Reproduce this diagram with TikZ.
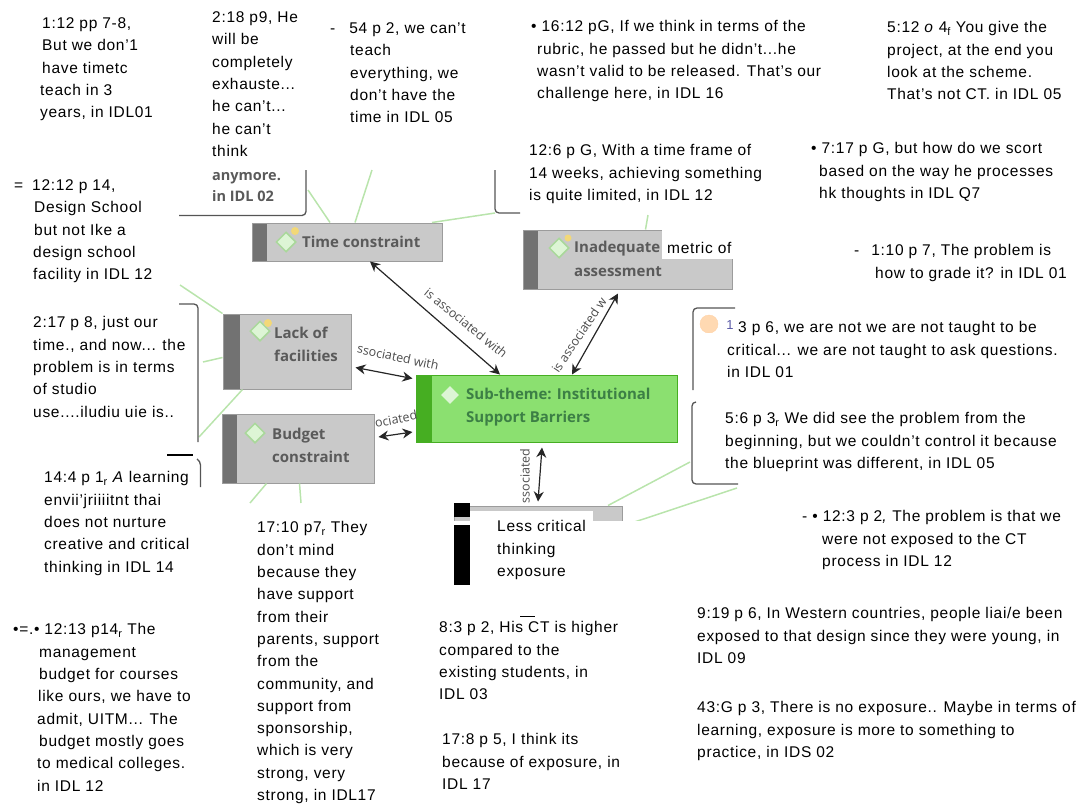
\documentclass[tikz,border=0pt]{standalone}
\usepackage{fontspec}
\usepackage{xcolor}
\setmainfont[LetterSpace=4.5]{Liberation Sans}
\newfontfamily\themefont{Open Sans}
\usetikzlibrary{shapes.geometric,arrows.meta}
\definecolor{themegrey}{HTML}{C9C9C9}
\definecolor{themeedge}{HTML}{9C9C9C}
\definecolor{themestrip}{HTML}{727272}
\definecolor{themetext}{HTML}{5A5A5A}
\definecolor{subgreen}{HTML}{8BE070}
\definecolor{substrip}{HTML}{46AE22}
\definecolor{subtext}{HTML}{3C7F45}
\definecolor{linkgreen}{HTML}{B9E4AC}
\definecolor{iconedge}{HTML}{A9D89A}
\definecolor{iconfill}{HTML}{DDF5D5}
\definecolor{iconsun}{HTML}{F2D878}
\definecolor{frameline}{HTML}{555555}
\tikzset{
  quote/.style={anchor=north west,align=left,inner sep=0pt,yshift=-1.5pt,font=\fontsize{15.5}{22.3}\selectfont},
  greybox/.style={draw=themeedge,fill=themegrey,line width=1pt,inner sep=0pt},
  themelabel/.style={anchor=west,align=left,inner sep=0pt,text=themetext,font=\themefont\bfseries\fontsize{15}{23}\selectfont},
  edgelabel/.style={inner sep=0pt,text=black!70,font=\themefont\fontsize{12.5}{13}\selectfont},
  assoc/.style={{Stealth[length=10pt,width=10pt]}-{Stealth[length=10pt,width=10pt]},line width=1.2pt,black!85},
  quotelink/.style={linkgreen,line width=1.5pt},
  framepath/.style={frameline,line width=1.3pt,rounded corners=4pt},
  diamondicon/.style={diamond,draw=iconedge,fill=iconfill,line width=1.5pt,minimum size=20pt,inner sep=0pt}
}
\begin{document}
\begin{tikzpicture}[x=1pt,y=-1pt]
\useasboundingbox (0,0) rectangle (1083,803);
\coordinate (linka) at (308,190);
\coordinate (linkb) at (372,170);
\coordinate (linkc) at (495,213);
\coordinate (linkd) at (180,285);
\coordinate (linke) at (203,362);
\coordinate (linkf) at (199,437);
\coordinate (linkg) at (250,503);
\coordinate (linkh) at (301,503);
\coordinate (linki) at (648,215);
\coordinate (linkj) at (690,462);
\coordinate (linkk) at (737,488);
\node[greybox,minimum width=190pt,minimum height=38pt] (timeconstraint) at (347,242) {};
\node[greybox,minimum width=128pt,minimum height=75pt] (lackfacilities) at (287,351.5) {};
\node[greybox,minimum width=152pt,minimum height=69pt] (budgetconstraint) at (298,448.5) {};
\node[greybox,minimum width=209pt,minimum height=59pt] (inadequatemetric) at (627.5,259.5) {};
\node[draw=substrip,fill=subgreen,line width=1pt,inner sep=0pt,minimum width=261pt,minimum height=67pt] (subtheme) at (546.5,408.5) {};
\node[greybox,minimum width=168pt,minimum height=40pt] (lesscritical) at (538,526) {};
\draw[quotelink] ([xshift=-17pt]timeconstraint.north) -- (linka);
\draw[quotelink] ([xshift=8pt]timeconstraint.north) -- (linkb);
\draw[quotelink] ([xshift=85pt]timeconstraint.north) -- (linkc);
\draw[quotelink] (lackfacilities.north west) -- (linkd);
\draw[quotelink] ([yshift=-6pt]lackfacilities.west) -- (linke);
\draw[quotelink] ([xshift=20pt]lackfacilities.south west) -- (linkf);
\draw[quotelink] ([xshift=45pt]budgetconstraint.south west) -- (linkg);
\draw[quotelink] ([xshift=78pt]budgetconstraint.south west) -- (linkh);
\draw[quotelink] ([xshift=18pt]inadequatemetric.north) -- (linki);
\draw[quotelink] ([xshift=70pt]lesscritical.north) -- (linkj);
\draw[quotelink] (lesscritical.east) -- (linkk);
\fill[themestrip] (252.5,223.5) rectangle (267,260.5);
\fill[themestrip] (223.5,314.5) rectangle (240,388.5);
\fill[themestrip] (222.5,414.5) rectangle (237,482.5);
\fill[themestrip] (523.5,230.5) rectangle (538,288.5);
\fill[substrip] (416.5,375.5) rectangle (432,441.5);
\node[diamondicon] (timeicon) at (286,242) {};
\fill[iconsun] (295,231) circle (4pt);
\node[diamondicon] (lackicon) at (260,331) {};
\fill[iconsun] (268,323) circle (4pt);
\node[diamondicon] (budgeticon) at (255,433) {};
\node[diamondicon] (inadequateicon) at (559,248) {};
\fill[iconsun] (568,238) circle (3.5pt);
\node[diamond,fill=iconfill,minimum size=18pt,inner sep=0pt] (subicon) at (450,395) {};
\node[themelabel] (timelabel) at (302,242) {Time constraint};
\node[themelabel] (lacklabel) at (274,344) {Lack of\\facilities};
\node[themelabel] (budgetlabel) at (272,445) {Budget\\constraint};
\node[themelabel] (inadequatelabel) at (574,249) {Inadequate};
\node[themelabel] (assessmentlabel) at (574,272) {assessment};
\node[themelabel,text=subtext] (sublabel) at (466,407) {Sub-theme: Institutional\\Support Barriers};
\fill[white] (662,229) rectangle (734,258.5);
\fill[white] (470,511) rectangle (593,590);
\fill[white] (454,521) rectangle (640,590);
\fill[black] (454,503) rectangle (470,517);
\fill[black] (454,525) rectangle (470,585);
\draw[assoc] ([xshift=23pt]timeconstraint.south) -- ([xshift=-46.5pt]subtheme.north);
\draw[assoc] ([xshift=-9.5pt,yshift=-4pt]inadequatemetric.south) -- ([xshift=25.5pt]subtheme.north);
\draw[assoc] ([xshift=4pt,yshift=-16pt]lackfacilities.east) -- ([xshift=-3pt,yshift=30pt]subtheme.west);
\draw[assoc] ([xshift=4pt,yshift=11.5pt]budgetconstraint.east) -- ([xshift=-3pt,yshift=-23.5pt]subtheme.west);
\draw[assoc] ([xshift=-4.5pt,yshift=-5pt]subtheme.south) -- ([yshift=4pt]lesscritical.north);
\node[edgelabel,rotate=-39] (timeedge) at (466,323) {is associated with};
\node[edgelabel,rotate=56] (inadequateedge) at (579,335) {is associated w};
\node[edgelabel,rotate=-12] (lackedge) at (398,357) {ssociated with};
\node[edgelabel,rotate=11] (budgetedge) at (396,419) {ociated};
\node[edgelabel,rotate=90] (lessedge) at (525,476) {ssociated};
\draw[framepath] (179,215.5) -- (306,215.5) -- (306,170);
\draw[framepath] (520,213) -- (495,213) -- (495,170);
\draw[framepath] (179,304) -- (198,304) -- (198,442);
\draw[framepath] (197,459) -- (200.5,461) -- (200.5,487);
\draw[framepath] (735,308) -- (693,308) -- (693,390);
\draw[framepath] (738,484) -- (692,484) -- (692,402) -- (696,402);
\draw[black,line width=2.5pt] (167,455) -- (193,455);
\node[circle,draw=orange!35,fill=orange!30,minimum size=18pt,inner sep=0pt] (personicon) at (709,324) {};
\fill[white] (698,332.5) rectangle (735,345);
\node[inner sep=0pt,text=blue!30!gray,font=\fontsize{13}{14}\selectfont] (personid) at (730,325) {1};
\node[themelabel,anchor=north west,font=\themefont\bfseries\fontsize{14.5}{21}\selectfont] (framelabel) at (212,172) {anymore.\\in IDL 02};
\node[quote] (quotea) at (42,16) {1:12 pp 7-8,\\But we don'1\\have timetc\\\hspace{-2pt}teach in 3\\\hspace{-2pt}years, in IDL01};
\node[quote] (quoteb) at (212,10) {2:18 p9, He\\will be\\completely\\exhauste...\\he can't...\\he can't\\think};
\node[quote] (quotec) at (330,21) {-\hspace{14pt}54 p 2, we can't\\\hspace{20pt}teach\\\hspace{20pt}everything, we\\\hspace{20pt}don't have the\\\hspace{20pt}time in IDL 05};
\node[quote] (quoted) at (14,178) {=\hspace{9pt}12:12 p 14,\\\hspace{20pt}Design School\\\hspace{20pt}but not Ike a\\\hspace{19pt}design school\\\hspace{19pt}facility in IDL 12};
\node[quote] (quotee) at (33,315) {2:17 p 8, just our\\time., and now... the\\problem is in terms\\of studio\\use....iludiu uie is..};
\node[quote] (quotef) at (44,470) {14:4 p 1\textsubscript{r} \textit{A} learning\\envii'jriiiitnt thai\\does not nurture\\creative and critical\\thinking in IDL 14};
\node[quote] (quoteg) at (257,520) {17:10 p7\textsubscript{r} They\\don't mind\\because they\\have support\\from their\\parents, support\\from the\\community, and\\support from\\sponsorship,\\which is very\\strong, very\\strong, in IDL17};
\node[quote] (quoteh) at (13,622) {•=.• 12:13 p14\textsubscript{r} The\\\hspace{26pt}management\\\hspace{26pt}budget for courses\\\hspace{25pt}like ours, we have to\\\hspace{24pt}admit, UITM... The\\\hspace{26pt}budget mostly goes\\\hspace{24pt}to medical colleges.\\\hspace{24pt}in IDL 12};
\node[quote] (quotei) at (439,620) {8:3 p 2, His CT is higher\\compared to the\\existing students, in\\IDL 03};
\draw[black,line width=1pt] (520,616) -- (535,616);
\node[quote] (quotej) at (442,732) {17:8 p 5, I think its\\because of exposure, in\\IDL 17};
\node[quote] (quotek) at (531,19) {• 16:12 pG, If we think in terms of the\\\hspace{6pt}rubric, he passed but he didn't...he\\\hspace{6pt}wasn't valid to be released. That's our\\\hspace{6pt}challenge here, in IDL 16};
\node[quote] (quotel) at (529,143) {12:6 p G, With a time frame of\\14 weeks, achieving something\\is quite limited, in IDL 12};
\node[quote] (quotem) at (887,20) {5:12 \textit{o} 4\textsubscript{f} You give the\\project, at the end you\\look at the scheme.\\That's not CT. in IDL 05};
\node[quote] (quoten) at (811,141) {• 7:17 p G, but how do we scort\\\hspace{8pt}based on the way he processes\\\hspace{8pt}hk thoughts in IDL Q7};
\node[quote] (quoteo) at (854,243) {-\hspace{12pt}1:10 p 7, The problem is\\\hspace{21pt}how to grade it? in IDL 01};
\node[quote] (quotemetric) at (667,241) {metric of};
\node[quote] (quotep) at (727,320) {\hspace{11pt}3 p 6, we are not we are not taught to be\\critical... we are not taught to ask questions.\\in IDL 01};
\node[quote] (quoteq) at (725,411) {5:6 p 3\textsubscript{r} We did see the problem from the\\beginning, but we couldn't control it because\\the blueprint was different, in IDL 05};
\node[quote] (quoter) at (802,509) {- • 12:3 p 2\textit{,} The problem is that we\\\hspace{20pt}were not exposed to the CT\\\hspace{20pt}process in IDL 12};
\node[quote] (quotes) at (697,606) {9:19 p 6, In Western countries, people liai/e been\\exposed to that design since they were young, in\\IDL 09};
\node[quote] (quotet) at (697,700) {43:G p 3, There is no exposure.. Maybe in terms of\\learning, exposure is more to something to\\practice, in IDS 02};
\node[quote] (lesslabel) at (497,519) {Less critical\\thinking\\exposure};
\end{tikzpicture}
\end{document}
